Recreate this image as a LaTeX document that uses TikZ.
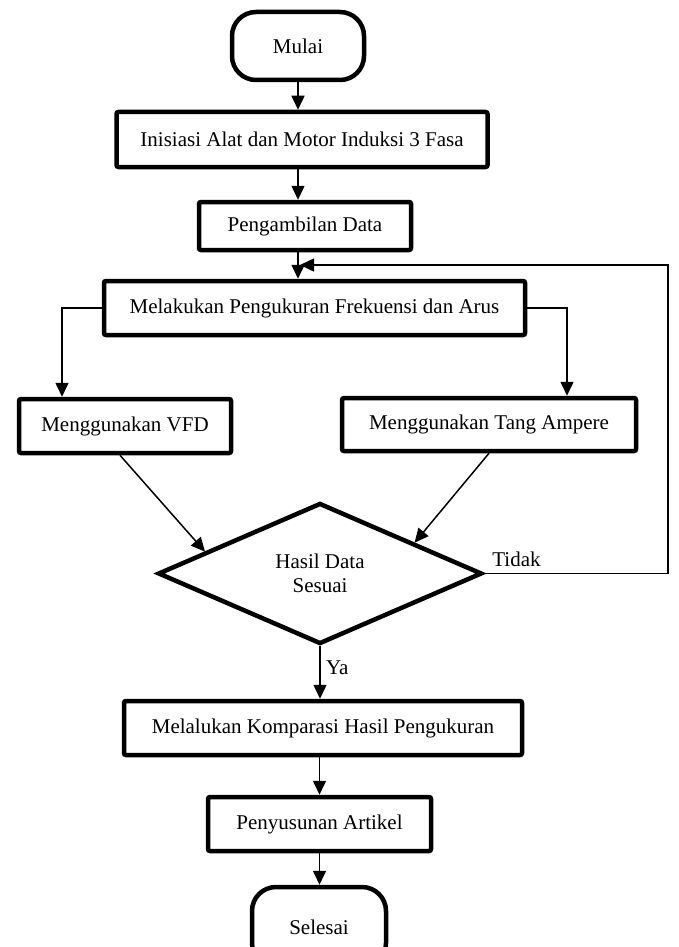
\documentclass[tikz,border=0pt]{standalone}
\usepackage{fontspec}
\setmainfont{Liberation Serif}
\usetikzlibrary{shapes.geometric,arrows.meta,calc}
\begin{document}
\begin{tikzpicture}[
        x=1pt, y=-1pt,
        font=\fontsize{21}{25}\selectfont,
        proses/.style={draw, rectangle, rounded corners=2pt, line width=4.5pt, align=center, inner sep=0pt},
        terminal/.style={draw, rectangle, rounded corners=24pt, line width=4.5pt, minimum height=68pt},
        keputusan/.style={draw, diamond, line width=4.5pt, align=center, inner sep=0pt, minimum width=324pt, minimum height=141pt, font=\fontsize{21}{24}\selectfont},
        panah/.style={-{Triangle[length=14pt,width=13pt]}, line width=1.5pt}
    ]
        \clip (0,0) rectangle (679,947);

        \node[terminal, minimum width=132pt] (mulai) at (298,46) {Mulai};
        \node[proses, minimum width=371pt, minimum height=55pt] (init) at (302,139.5) {Inisiasi Alat dan Motor Induksi 3 Fasa};
        \node[proses, minimum width=212pt, minimum height=48pt] (data) at (305,226) {Pengambilan Data};
        \node[proses, minimum width=421pt, minimum height=54pt] (ukur) at (314.5,308) {Melakukan Pengukuran Frekuensi dan Arus};
        \node[proses, minimum width=212pt, minimum height=54pt] (vfd) at (125,426) {Menggunakan VFD};
        \node[proses, minimum width=294pt, minimum height=53pt] (tang) at (489,424.5) {Menggunakan Tang Ampere};
        \node[keputusan] (cek) at (320,573.5) {Hasil Data\\Sesuai};
        \node[proses, minimum width=398pt, minimum height=54pt] (komparasi) at (323,728) {Melalukan Komparasi Hasil Pengukuran};
        \node[proses, minimum width=223pt, minimum height=54pt] (artikel) at (319.5,824) {Penyusunan Artikel};
        \node[terminal, minimum width=134pt, minimum height=80pt] (selesai) at (319,927) {Selesai};

        \coordinate (balik) at (668,265);
        \coordinate (gabung) at (300,265);

        \draw[panah] (mulai.south) -- (mulai.south |- init.north);
        \draw[panah] (init.south -| mulai.south) -- (data.north -| mulai.south);
        \draw[panah] (data.south -| mulai.south) -- (ukur.north -| mulai.south);
        \draw[panah] (ukur.west) -| ([xshift=-63pt]vfd.north);
        \draw[panah] (ukur.east) -| ([xshift=78pt]tang.north);
        \draw[panah] ([xshift=-5pt]vfd.south) -- ($(cek.west)!0.3!(cek.north)$);
        \draw[panah] (tang.south) -- ($(cek.north)!0.576!(cek.east)$);
        \draw[panah] (cek.east) node[above right, xshift=4pt, yshift=3pt] {Tidak} -| (balik) -- (gabung);
        \draw[panah] (cek.south) -- node[right, pos=0.4, xshift=2pt] {Ya} (cek.south |- komparasi.north);
        \draw[panah] (komparasi.south -| artikel.north) -- (artikel.north);
        \draw[panah] (artikel.south) -- (artikel.south |- selesai.north);
\end{tikzpicture}
\end{document}
